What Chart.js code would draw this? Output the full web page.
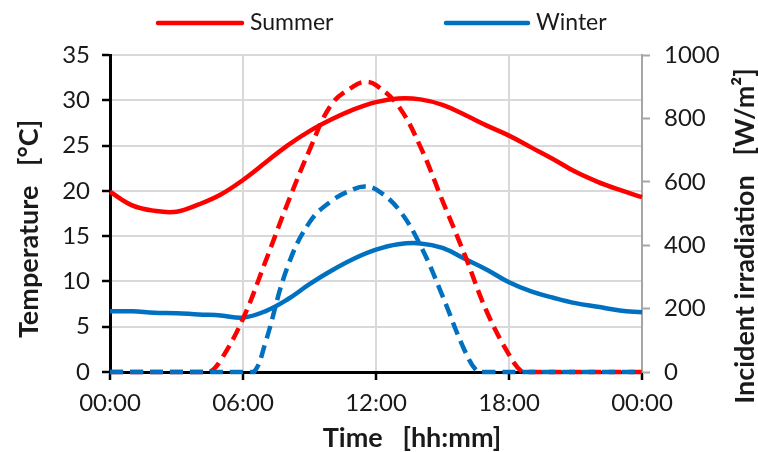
<!DOCTYPE html>
<html>
<head>
<meta charset="utf-8">
<script src="https://cdn.jsdelivr.net/npm/chart.js@4.4.1/dist/chart.umd.min.js"></script>
<style>
  html, body { margin: 0; padding: 0; background: #fff; }
  #wrap { width: 758px; height: 452px; }
</style>
</head>
<body>
<div id="wrap"><canvas id="chart" width="758" height="452"></canvas></div>
<script>
// Series names and colours
const seriesNames = ['Summer', 'Winter'];
const seriesColors = ['#FF0000', '#0070C0'];

// Air temperature, hourly [°C]
const tempHours = [0, 1, 2, 3, 4, 5, 6, 7, 8, 9, 10, 11, 12, 13, 14, 15, 16, 17, 18, 19, 20, 21, 22, 23, 24];
const summerTemp = [19.9, 18.4, 17.8, 17.7, 18.5, 19.6, 21.2, 23.1, 25.0, 26.6, 27.9, 29.0, 29.8, 30.2, 30.1, 29.5, 28.4, 27.2, 26.1, 24.8, 23.5, 22.1, 21.0, 20.1, 19.3];
const winterTemp = [6.7, 6.7, 6.55, 6.5, 6.35, 6.25, 6.0, 6.7, 8.0, 9.7, 11.2, 12.5, 13.5, 14.1, 14.2, 13.7, 12.5, 11.3, 9.9, 8.9, 8.2, 7.6, 7.2, 6.8, 6.6];

// Incident irradiation [W/m²]
const summerIrrHours = [0, 4, 4.5, 5, 6, 7, 8, 9, 10, 11, 11.5, 12, 13, 14, 15, 16, 17, 18, 18.6, 19, 24];
const summerIrr = [0, 0, 0, 38, 168, 346, 530, 700, 845, 902, 915, 905, 840, 711, 540, 370, 190, 55, 0, 0, 0];
const winterIrrHours = [0, 6, 6.5, 7, 8, 9, 10, 11, 11.5, 12, 13, 14, 15, 16, 16.6, 17, 24];
const winterIrr = [0, 0, 0, 90, 330, 472, 540, 577, 585, 576, 515, 400, 240, 68, 0, 0, 0];

// Axis labels
const xTitle = 'Time   [hh:mm]';
const yTitle = 'Temperature   [°C]';
const y2Title = 'Incident irradiation   [W/m²]';

const toPoints = (xs, ys) => xs.map((x, i) => ({ x, y: ys[i] }));
const pad2 = (n) => String(n).padStart(2, '0');

const FONT = 'Lato, "Open Sans", sans-serif';
const TEXT = '#1a1a1a';

// Legend and rotated axis titles drawn by hand
const decorPlugin = {
  id: 'decor',
  afterDraw(chart) {
    const { ctx } = chart;
    ctx.save();

    // legend
    const items = [
      { x0: 158, x1: 242, tx: 250 },
      { x0: 446, x1: 528, tx: 536 },
    ];
    ctx.font = `23px ${FONT}`;
    ctx.textBaseline = 'middle';
    ctx.textAlign = 'left';
    items.forEach((it, i) => {
      ctx.strokeStyle = seriesColors[i];
      ctx.lineWidth = 4.5;
      ctx.lineCap = 'round';
      ctx.beginPath();
      ctx.moveTo(it.x0, 23);
      ctx.lineTo(it.x1, 23);
      ctx.stroke();
      ctx.fillStyle = TEXT;
      ctx.fillText(seriesNames[i], it.tx, 23);
    });

    // axis titles
    ctx.fillStyle = TEXT;
    ctx.font = `bold 27px ${FONT}`;
    ctx.textAlign = 'center';
    ctx.fillText(xTitle, 412, 438);

    ctx.save();
    ctx.translate(29, 229);
    ctx.rotate(-Math.PI / 2);
    ctx.fillText(yTitle, 0, 0);
    ctx.restore();

    ctx.save();
    ctx.translate(745, 236);
    ctx.rotate(-Math.PI / 2);
    ctx.fillText(y2Title, 0, 0);
    ctx.restore();

    ctx.restore();
  },
};

const dashed = (label, color, pts) => ({
  label,
  data: pts,
  yAxisID: 'y2',
  borderColor: color,
  borderWidth: 4.5,
  borderDash: [13, 7],
  pointRadius: 0,
  tension: 0.4,
  clip: false,
});

const solid = (label, color, pts) => ({
  label,
  data: pts,
  yAxisID: 'y',
  borderColor: color,
  borderWidth: 4.5,
  pointRadius: 0,
  tension: 0.4,
  clip: false,
});

const tickFont = { family: FONT, size: 24 };

new Chart(document.getElementById('chart'), {
  type: 'line',
  data: {
    datasets: [
      dashed('Winter irradiation', seriesColors[1], toPoints(winterIrrHours, winterIrr)),
      dashed('Summer irradiation', seriesColors[0], toPoints(summerIrrHours, summerIrr)),
      solid(seriesNames[1], seriesColors[1], toPoints(tempHours, winterTemp)),
      solid(seriesNames[0], seriesColors[0], toPoints(tempHours, summerTemp)),
    ],
  },
  options: {
    responsive: false,
    animation: false,
    layout: { padding: { top: 55, left: 0, right: 0, bottom: 0 } },
    plugins: {
      legend: { display: false },
      tooltip: { enabled: false },
    },
    scales: {
      x: {
        type: 'linear',
        min: 0,
        max: 24,
        afterFit: (s) => { s.height = 80; },
        ticks: {
          stepSize: 6,
          color: TEXT,
          font: tickFont,
          padding: 9,
          maxRotation: 0,
          callback: (v) => `${pad2(v % 24)}:00`,
        },
        grid: {
          color: '#D9D9D9',
          lineWidth: 2,
          tickColor: '#000',
          tickWidth: 2.5,
          tickLength: 8,
        },
        border: { color: '#000', width: 3 },
      },
      y: {
        position: 'left',
        min: 0,
        max: 35,
        afterFit: (s) => { s.width = 110; },
        ticks: { stepSize: 5, color: TEXT, font: tickFont, padding: 12 },
        grid: {
          color: '#D9D9D9',
          lineWidth: 2,
          tickColor: '#000',
          tickWidth: 2.5,
          tickLength: 8,
        },
        border: { color: '#000', width: 3 },
      },
      y2: {
        position: 'right',
        min: 0,
        max: 1000,
        afterFit: (s) => { s.width = 116; },
        ticks: { stepSize: 200, color: TEXT, font: tickFont, padding: 14, callback: (v) => String(v) },
        grid: {
          drawOnChartArea: false,
          tickColor: '#A6A6A6',
          tickWidth: 2,
          tickLength: 8,
        },
        border: { color: '#A6A6A6', width: 2 },
      },
    },
  },
  plugins: [decorPlugin],
});
</script>
</body>
</html>
